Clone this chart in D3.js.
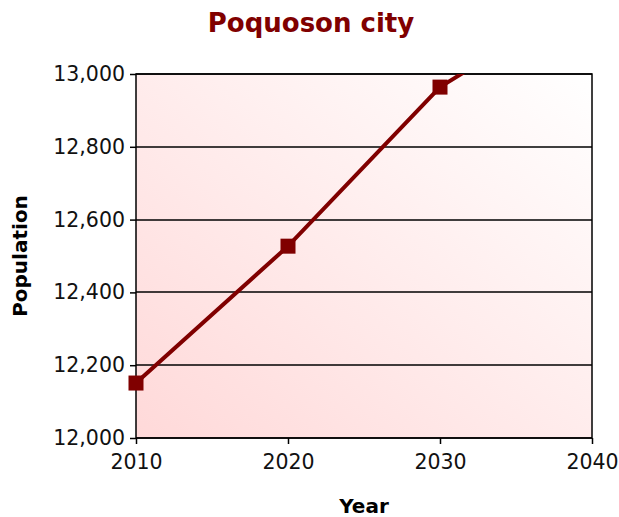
<!DOCTYPE html>
<html>
<head>
<meta charset="utf-8">
<script src="https://cdn.jsdelivr.net/npm/d3@7"></script>
<style>
  body { margin: 0; background: #fff; }
  text { font-family: Verdana, "DejaVu Sans", sans-serif; }
</style>
</head>
<body>
<div id="chart"></div>
<script>
// data
const years = [2010, 2020, 2030, 2040];
const population = [12151, 12527, 12964, 13222];
const xTicks = [2010, 2020, 2030, 2040];
const yTicks = [12000, 12200, 12400, 12600, 12800, 13000];

const width = 619;
const height = 517;
const margin = {top: 74, right: 27, bottom: 79, left: 136};
const graphWidth = width - margin.left - margin.right;
const graphHeight = height - margin.top - margin.bottom;
const dark = "#800000";

const svg = d3.select("#chart").append("svg")
    .attr("width", width)
    .attr("height", height);

const defs = svg.append("defs");
const grad = defs.append("linearGradient")
    .attr("id", "bg")
    .attr("x1", "0").attr("y1", "1")
    .attr("x2", "1").attr("y2", "0");
grad.append("stop").attr("offset", "0%").attr("stop-color", "#ffd9d9");
grad.append("stop").attr("offset", "100%").attr("stop-color", "#ffffff");

defs.append("clipPath").attr("id", "plot-clip")
  .append("rect")
    .attr("width", graphWidth)
    .attr("height", graphHeight);

const x = d3.scaleLinear().domain([2010, 2040]).range([0, graphWidth]);
const y = d3.scaleLinear().domain([12000, 13000]).range([graphHeight, 0]);

const graph = svg.append("g")
    .attr("transform", `translate(${margin.left}, ${margin.top})`);

graph.append("rect")
    .attr("width", graphWidth)
    .attr("height", graphHeight)
    .attr("fill", "url(#bg)");

// horizontal grid lines
graph.append("g")
  .selectAll("line")
  .data(yTicks)
  .enter().append("line")
    .attr("x1", 0)
    .attr("x2", graphWidth)
    .attr("y1", d => Math.round(y(d)))
    .attr("y2", d => Math.round(y(d)))
    .attr("stroke", "#000")
    .attr("stroke-width", 1.5);

// axes
const xAxis = d3.axisBottom(x)
    .tickValues(xTicks)
    .tickFormat(d3.format("d"))
    .tickSizeInner(6)
    .tickSizeOuter(0)
    .tickPadding(4);
const yAxis = d3.axisLeft(y)
    .tickValues(yTicks)
    .tickFormat(d3.format(","))
    .tickSizeInner(6)
    .tickSizeOuter(0)
    .tickPadding(5);

const gX = graph.append("g")
    .attr("transform", `translate(0, ${graphHeight})`)
    .call(xAxis);
const gY = graph.append("g").call(yAxis);

[gX, gY].forEach(g => {
  g.select(".domain").remove();
  g.selectAll("line").attr("stroke", "#000").attr("stroke-width", 1.5);
  g.selectAll("text")
    .style("font-size", "20.5px")
    .attr("fill", "#111");
});
gX.selectAll("text").attr("dy", "1.0em");

// plot frame
graph.append("rect")
    .attr("width", graphWidth)
    .attr("height", graphHeight)
    .attr("fill", "none")
    .attr("stroke", "#000")
    .attr("stroke-width", 1.5);

// the series
const pts = years.map((yr, i) => ({x: yr, y: population[i]}));
const series = graph.append("g").attr("clip-path", "url(#plot-clip)");

series.append("path")
    .datum(pts)
    .attr("fill", "none")
    .attr("stroke", dark)
    .attr("stroke-width", 4)
    .attr("d", d3.line()
        .x(d => x(d.x))
        .y(d => y(d.y)));

const sq = 15;
graph.append("g")
  .selectAll("rect")
  .data(pts.filter(d => d.y <= 13000))
  .enter().append("rect")
    .attr("x", d => x(d.x) - sq / 2)
    .attr("y", d => y(d.y) - sq / 2)
    .attr("width", sq)
    .attr("height", sq)
    .attr("fill", dark);

// titles
svg.append("text")
    .attr("x", 311)
    .attr("y", 32)
    .attr("text-anchor", "middle")
    .attr("fill", dark)
    .style("font-size", "26px")
    .style("font-weight", "bold")
    .text("Poquoson city");

svg.append("text")
    .attr("x", margin.left + graphWidth / 2)
    .attr("y", 513)
    .attr("text-anchor", "middle")
    .attr("fill", "#000")
    .style("font-size", "20px")
    .style("font-weight", "bold")
    .text("Year");

svg.append("text")
    .attr("transform", `translate(27, ${margin.top + graphHeight / 2}) rotate(-90)`)
    .attr("text-anchor", "middle")
    .attr("fill", "#000")
    .style("font-size", "20px")
    .style("font-weight", "bold")
    .text("Population");
</script>
</body>
</html>
